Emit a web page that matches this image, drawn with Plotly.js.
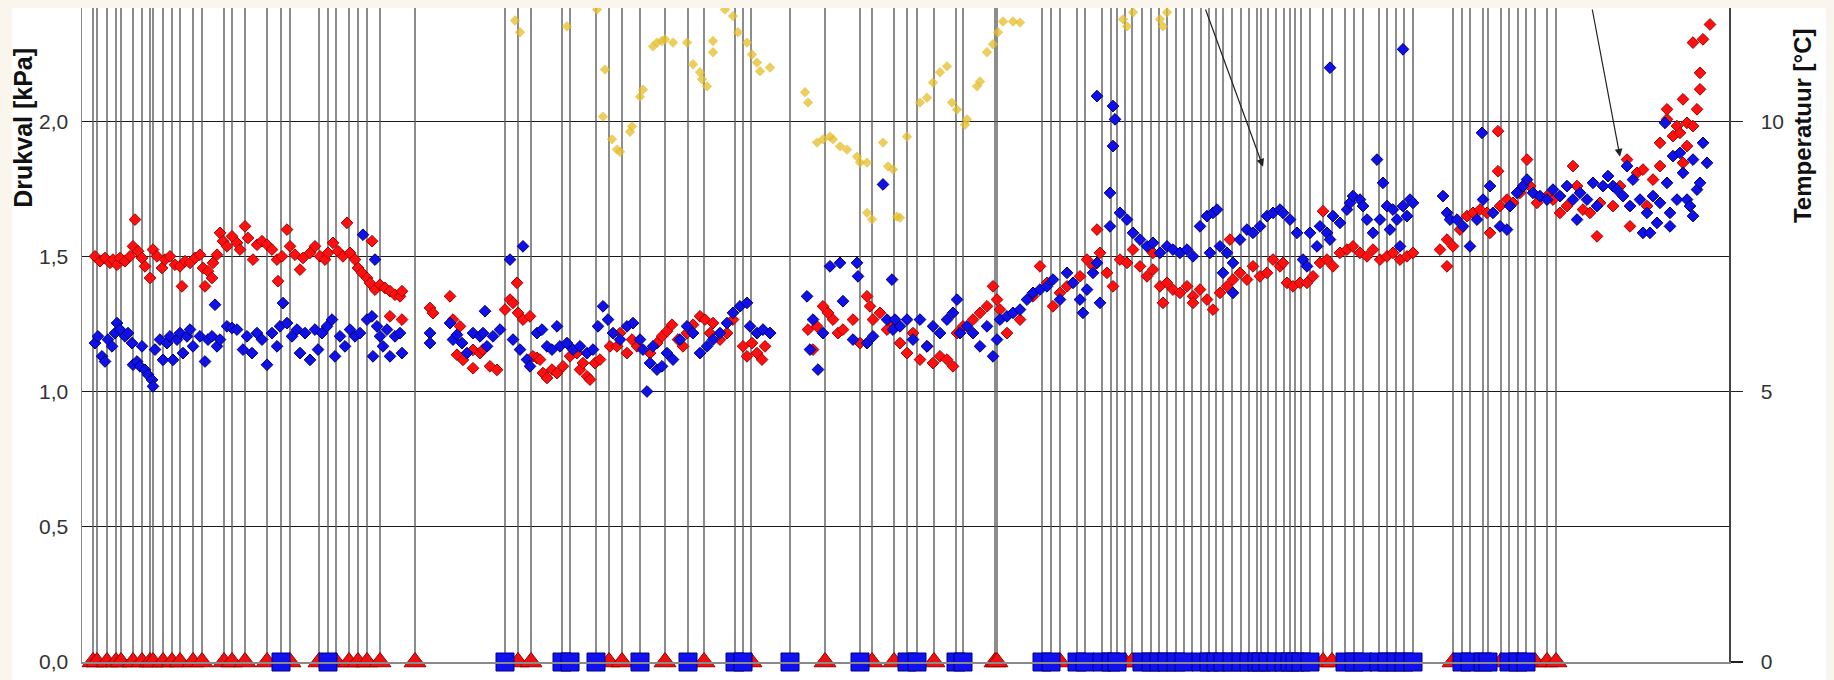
<!DOCTYPE html>
<html><head><meta charset="utf-8">
<script src="https://cdn.plot.ly/plotly-3.0.1.min.js"></script>
<style>
html,body{margin:0;padding:0;background:#faf6ee;width:1834px;height:680px;overflow:hidden}
#chart{position:absolute;left:0px;top:8px;width:1826px;height:672px;background:#fff}
</style>
</head><body><div id="chart"></div>
<script>
// x: days (arbitrary time axis), y: pressure drop [kPa], temperature [°C]
const redX = [1.3,1.8,2.3,2.8,3.1,3.5,3.8,4.3,4.8,5.1,5.3,5.6,6.0,6.3,6.8,7.1,7.5,8.0,8.3,8.8,
9.3,9.8,10.0,10.3,10.8,11.3,11.8,12.1,12.3,12.6,13.0,13.1,13.5,13.8,14.1,14.5,15.0,15.5,15.8,16.3,
16.6,17.1,17.5,18.0,18.5,19.0,19.5,19.6,20.0,20.5,20.8,21.3,21.8,22.1,22.8,23.3,23.8,24.3,24.6,25.1,
25.6,26.1,26.5,26.8,27.3,27.6,28.0,28.5,28.8,29.0,29.3,29.8,30.3,30.8,31.3,31.8,32.0,30.8,32.0,34.8,
35.1,36.8,37.1,37.8,37.5,38.1,39.1,39.8,40.8,41.5,39.1,
40.1,42.3,42.8,43.1,43.5,43.6,44.1,44.8,45.1,45.5,45.8,46.1,46.5,47.0,47.5,48.1,48.8,49.5,49.8,50.1,
50.5,50.8,51.3,51.8,52.8,53.5,53.8,54.5,55.0,55.5,56.8,57.5,58.0,58.5,59.0,59.6,60.1,60.5,61.1,61.8,
62.3,62.8,63.1,63.8,64.5,65.1,66.1,66.5,67.0,67.5,68.0,68.3,68.8,72.6,73.1,73.5,74.1,74.6,75.1,75.6,
76.1,77.1,77.8,78.5,78.8,79.1,79.8,
80.5,81.1,81.8,82.5,83.1,83.8,84.5,85.1,85.8,86.5,87.1,87.5,88.1,89.1,89.8,90.5,91.1,91.5,91.8,92.5,
93.8,95.1,95.8,96.5,97.1,97.8,98.5,99.8,100.5,101.1,101.5,101.8,102.5,103.1,103.8,104.5,105.1,105.8,106.5,107.1,
107.1,107.8,108.1,108.5,109.1,109.8,110.5,111.1,111.1,111.8,112.5,113.1,113.8,114.5,114.8,115.1,115.8,116.5,117.1,117.8,
118.5,119.1,119.8,
120.1,120.5,121.1,121.8,122.5,123.1,123.8,124.1,124.5,125.1,125.8,126.5,127.1,127.8,128.5,129.1,129.8,130.5,131.1,131.8,
132.5,133.1,135.8,136.5,136.5,137.1,137.8,138.5,139.1,139.8,140.5,140.8,141.6,141.6,141.8,142.5,143.1,143.8,144.5,144.8,
145.5,146.5,147.1,147.8,148.5,149.1,149.5,150.1,150.8,151.5,151.8,153.1,153.8,154.5,154.8,155.5,156.1,156.5,157.1,157.8,
157.8,158.5,158.5,159.1,159.5,159.8,160.1,160.1,160.5,160.5,161.1,161.5,161.8,161.8,161.1,162.1,162.8];
const redY = [1.501,1.483,1.495,1.477,1.489,1.470,1.495,1.483,1.501,1.538,1.637,1.520,1.495,1.464,1.421,1.526,1.501,1.458,1.489,1.501,
1.470,1.464,1.390,1.483,1.477,1.495,1.507,1.458,1.390,1.446,1.421,1.477,1.507,1.588,1.557,1.538,1.575,1.551,1.526,1.612,
1.569,1.489,1.544,1.557,1.544,1.526,1.489,1.409,1.501,1.600,1.538,1.507,1.452,1.495,1.514,1.538,1.501,1.489,1.514,1.551,
1.520,1.501,1.625,1.514,1.489,1.458,1.440,1.421,1.402,1.557,1.378,1.396,1.384,1.372,1.359,1.353,1.372,1.279,1.267,1.310,
1.291,1.353,1.267,1.242,1.137,1.118,1.155,1.143,1.094,1.081,1.087,
1.156,1.304,1.341,1.329,1.403,1.292,1.267,1.279,1.131,1.125,1.119,1.069,1.051,1.082,1.069,1.094,1.131,1.143,1.082,1.106,
1.057,1.045,1.106,1.119,1.168,1.168,1.217,1.143,1.193,1.168,1.143,1.180,1.205,1.224,1.248,1.193,1.168,1.217,1.248,1.279,
1.267,1.217,1.254,1.193,1.217,1.267,1.168,1.131,1.180,1.143,1.119,1.168,1.217,1.230,1.156,1.242,1.316,1.292,1.267,1.217,
1.230,1.267,1.180,1.353,1.316,1.267,1.292,
1.230,1.254,1.180,1.143,1.217,1.119,1.168,1.106,1.131,1.119,1.094,1.217,1.242,1.267,1.292,1.316,1.390,1.341,1.304,1.217,
1.267,1.353,1.464,1.403,1.316,1.366,1.390,1.427,1.489,1.464,1.600,1.514,1.440,1.390,1.489,1.477,1.526,1.464,1.427,1.452,
1.514,1.390,1.329,1.403,1.378,1.366,1.390,1.353,1.329,1.378,1.341,1.304,1.366,1.390,1.563,1.415,1.440,1.415,1.464,1.427,
1.440,1.489,1.464,
1.477,1.403,1.390,1.403,1.403,1.427,1.477,1.668,1.489,1.464,1.514,1.526,1.538,1.514,1.501,1.526,1.489,1.501,1.514,1.489,
1.501,1.514,1.526,1.563,1.464,1.538,1.600,1.650,1.662,1.674,1.662,1.588,1.816,1.964,1.687,1.711,1.699,1.736,1.859,1.761,
1.699,1.724,1.711,1.662,1.687,1.835,1.761,1.674,1.662,1.575,1.699,1.687,1.761,1.859,1.612,1.810,1.822,1.687,1.785,1.835,
1.921,2.008,2.045,1.946,1.983,1.958,2.082,1.847,1.995,1.909,1.983,2.045,2.119,2.180,2.292,2.304,2.359];

const blueX = [1.3,1.6,2.0,2.3,2.6,3.0,3.3,3.5,3.8,4.3,4.6,5.0,5.1,5.5,5.8,6.0,6.3,6.6,7.0,7.1,
7.3,7.8,8.1,8.5,8.8,9.1,9.5,9.8,10.1,10.5,10.8,11.1,11.8,12.3,12.6,13.0,13.3,13.5,13.8,14.5,
15.0,15.5,16.1,16.5,17.0,17.5,18.0,18.5,19.0,19.5,19.8,20.1,20.5,21.0,21.5,21.8,22.3,22.8,23.3,23.6,
24.0,24.5,25.0,25.3,25.8,26.3,26.8,27.3,27.8,28.1,28.5,29.0,29.1,29.3,29.5,29.8,30.1,30.5,30.8,31.3,
31.8,32.0,34.8,34.8,36.8,37.1,37.5,38.0,38.5,39.1,39.8,40.3,40.5,41.1,
40.1,41.8,42.8,44.1,43.1,43.8,44.5,44.8,45.5,46.0,46.5,47.0,47.5,47.8,48.5,49.1,49.8,50.5,51.1,51.6,
52.1,52.6,53.1,53.8,54.5,55.1,55.8,56.1,56.5,56.8,57.1,57.5,58.0,58.5,59.1,59.8,60.5,61.1,61.8,62.5,
63.1,63.8,64.5,65.1,65.8,66.5,66.8,67.5,68.1,68.8,72.5,72.8,73.1,73.6,74.1,74.8,75.8,76.1,77.1,77.5,
77.6,78.5,79.1,80.1,80.5,81.0,81.3,
81.1,81.8,82.5,83.1,83.8,84.5,85.1,85.8,86.5,87.1,87.5,87.8,88.5,89.1,89.8,90.5,91.1,91.5,91.8,92.5,
93.1,93.8,94.5,95.1,95.8,96.5,97.1,97.8,98.5,99.1,99.8,100.1,100.5,101.1,101.5,101.8,101.5,102.8,102.8,103.1,
103.3,103.1,103.8,104.5,105.1,105.8,106.5,107.1,107.8,108.5,109.1,109.8,110.5,111.1,111.8,112.5,113.1,113.5,112.8,113.8,
114.1,114.5,115.1,115.1,115.8,116.5,117.1,117.8,118.5,119.1,119.8,
120.1,120.8,121.5,122.1,122.5,122.8,123.5,123.8,124.5,124.8,124.8,125.1,125.8,126.5,126.8,127.1,127.8,128.1,128.5,129.1,
129.5,129.8,130.1,130.5,130.8,131.1,131.5,131.8,132.1,132.1,132.5,132.8,133.1,136.1,136.5,136.8,137.5,138.1,138.8,139.5,
140.0,140.1,140.8,141.1,141.8,142.5,142.8,143.5,144.1,144.5,145.1,145.8,146.5,147.1,147.8,148.5,149.1,149.5,149.8,150.5,
151.1,151.5,152.1,152.6,153.1,153.5,154.1,154.5,154.8,155.1,155.8,156.1,156.5,156.8,157.1,157.5,157.8,158.3,158.5,158.8,
158.8,159.1,159.5,159.8,160.1,160.5,160.8,161.1,161.1,161.5,161.8,162.1,162.5];
const blueY = [1.180,1.205,1.131,1.112,1.193,1.168,1.217,1.254,1.230,1.205,1.217,1.180,1.100,1.112,1.094,1.168,1.081,1.063,1.044,1.020,
1.156,1.193,1.118,1.180,1.205,1.118,1.193,1.217,1.143,1.205,1.230,1.168,1.205,1.112,1.193,1.205,1.322,1.168,1.193,1.242,
1.236,1.230,1.156,1.205,1.143,1.217,1.193,1.100,1.217,1.168,1.242,1.328,1.254,1.205,1.230,1.143,1.217,1.118,1.230,1.156,
1.217,1.242,1.267,1.131,1.205,1.168,1.230,1.205,1.217,1.581,1.267,1.279,1.131,1.489,1.242,1.205,1.168,1.230,1.131,1.205,
1.217,1.143,1.217,1.180,1.254,1.193,1.211,1.180,1.143,1.217,1.205,1.298,1.168,1.205,
1.217,1.230,1.489,1.538,1.193,1.156,1.119,1.094,1.217,1.230,1.168,1.156,1.242,1.168,1.180,1.156,1.168,1.143,1.156,1.242,
1.316,1.267,1.217,1.193,1.242,1.254,1.193,1.156,1.001,1.106,1.168,1.082,1.094,1.143,1.119,1.193,1.242,1.217,1.143,1.168,
1.193,1.217,1.254,1.292,1.316,1.329,1.242,1.217,1.230,1.217,1.353,1.156,1.267,1.082,1.217,1.464,1.477,1.335,1.193,1.477,
1.427,1.180,1.205,1.767,1.267,1.415,1.267,
1.230,1.242,1.267,1.193,1.267,1.168,1.242,1.217,1.267,1.292,1.341,1.217,1.242,1.217,1.168,1.242,1.131,1.193,1.267,1.279,
1.292,1.304,1.341,1.366,1.378,1.390,1.415,1.341,1.440,1.403,1.341,1.292,1.378,1.440,1.477,1.329,2.094,1.736,1.612,2.057,
2.008,1.909,1.662,1.637,1.588,1.563,1.538,1.551,1.514,1.538,1.526,1.514,1.526,1.501,1.612,1.650,1.662,1.674,1.514,1.538,
1.440,1.514,1.477,1.366,1.563,1.600,1.588,1.612,1.650,1.662,1.674,
1.662,1.637,1.588,1.489,1.464,1.588,1.538,1.612,1.588,1.563,2.199,1.650,1.625,1.674,1.699,1.724,1.711,1.687,1.637,1.588,
1.859,1.637,1.773,1.687,1.600,1.674,1.637,1.538,1.687,2.267,1.650,1.711,1.699,1.724,1.662,1.637,1.637,1.612,1.538,1.637,
1.958,1.711,1.761,1.662,1.612,1.600,1.687,1.736,1.761,1.785,1.736,1.724,1.711,1.748,1.724,1.761,1.711,1.637,1.736,1.711,
1.773,1.687,1.761,1.798,1.761,1.748,1.724,1.835,1.687,1.785,1.711,1.588,1.662,1.588,1.724,1.625,1.699,1.995,1.773,1.662,
1.612,1.872,1.711,1.884,1.810,1.711,1.687,1.650,1.859,1.748,1.773,1.921,1.847];

// temperature [°C] (right axis), mostly above the visible range
const tempX = [43.3,43.8,48.5,51.5,52.3,52.1,53.0,53.5,53.8,54.8,55.0,55.8,56.1,57.1,57.5,58.0,58.3,59.1,60.5,61.1,
61.8,62.0,62.5,63.1,63.1,64.3,65.1,65.6,66.5,67.0,67.5,67.8,68.8,72.3,72.6,73.5,74.1,74.8,75.1,75.8,
76.5,77.5,77.8,78.5,80.1,80.6,81.1,78.5,79.0,81.5,81.8,82.5,83.8,84.5,85.1,85.8,86.5,87.0,87.5,88.3,
88.5,89.5,89.8,90.5,91.1,91.6,92.1,93.1,93.8,104.1,104.5,105.1,107.8,108.1,108.5];
const tempY = [11.87,11.65,11.76,12.07,10.96,10.09,9.67,9.48,9.44,9.81,9.91,10.46,10.59,11.39,11.46,11.49,11.52,11.46,11.46,11.06,
10.91,10.78,10.65,11.49,11.28,12.07,11.95,11.65,11.46,11.24,11.09,10.93,11.00,10.54,10.35,9.61,9.67,9.72,9.67,9.54,
9.48,9.35,9.24,9.24,9.61,9.17,9.11,8.31,8.19,8.24,8.22,9.72,10.35,10.44,10.72,10.91,11.02,10.35,10.22,9.94,
10.04,10.65,10.74,11.28,11.43,11.65,11.85,11.85,11.83,11.89,11.76,12.02,11.89,11.76,12.02];

// events drawn at y = 0 with a vertical line
const triX = [1.1,1.5,2.5,3.4,3.9,5.1,6.0,6.8,7.1,8.1,9.0,9.8,11.1,12.0,14.2,15.0,16.3,18.5,20.8,23.7,25.4,26.7,27.6,28.5,29.8,33.3,
43.6,44.9,52.7,54.0,58.3,62.2,66.9,74.3,79.0,81.2,85.2,91.3,91.5,
97.8,104.3,105.0,111.0,124.1,125.0,137.1,141.9,145.3,146.5,147.4];
const sqX = [19.9,24.6,42.3,48.0,48.8,51.4,55.8,60.6,65.3,66.1,70.8,77.8,82.5,83.5,87.4,88.1,
96.0,96.9,99.5,100.3,102.0,102.9,103.5,106.0,106.9,107.7,108.5,109.4,110.2,111.9,112.7,113.4,114.1,115.0,115.9,116.7,117.5,117.9,
118.6,119.4,120.2,120.8,121.3,121.9,122.8,126.3,127.2,128.1,129.7,130.5,131.4,132.2,133.1,138.0,138.8,140.1,140.6,142.7,143.6,144.4];

const yMax = 2.42;
const xMax = 164.7;
const FONT = 'Liberation Sans, Arial, sans-serif';

const evAll = triX.concat(sqX).sort((a,b)=>a-b);
const lineX = [], lineY = [];
evAll.forEach(v => { lineX.push(v, v, null); lineY.push(0, yMax, null); });

const traces = [
  {x: lineX, y: lineY, mode: 'lines', line: {color: '#5c5c5c', width: 1.4}, hoverinfo: 'skip', cliponaxis: true},
  {x: tempX, y: tempY, yaxis: 'y2', mode: 'markers', marker: {symbol: 'diamond', size: 8, color: 'rgba(228,190,40,0.75)', line: {width: 0}}},
  {x: redX, y: redY, mode: 'markers', marker: {symbol: 'diamond', size: 9, color: '#ff1010', line: {color: '#a00000', width: 1}}},
  {x: blueX, y: blueY, mode: 'markers', marker: {symbol: 'diamond', size: 9, color: '#1010e8', line: {color: '#000070', width: 1}}},
  {x: triX, y: triX.map(() => 0), mode: 'markers', cliponaxis: false,
   marker: {symbol: 'triangle-up', size: 19, color: '#ee1111', line: {color: '#990000', width: 1}}},
  {x: sqX, y: sqX.map(() => 0), mode: 'markers', cliponaxis: false,
   marker: {symbol: 'square', size: 18, color: '#1111ee', line: {color: '#000088', width: 1}}}
];

const layout = {
  width: 1826, height: 672,
  margin: {l: 82, r: 97, t: 0, b: 18},
  paper_bgcolor: '#ffffff', plot_bgcolor: '#ffffff',
  showlegend: false,
  separators: ', ',
  font: {family: FONT, color: '#333'},
  xaxis: {range: [0, xMax], showticklabels: false, showgrid: false, zeroline: false,
          showline: true, linecolor: '#8a8a8a', linewidth: 1.5, ticks: ''},
  yaxis: {range: [0, yMax], tickvals: [0, 0.5, 1, 1.5, 2], tickformat: '.1f',
          showgrid: true, gridcolor: '#1a1a1a', gridwidth: 1.2, zeroline: false,
          showline: true, linecolor: '#8a8a8a', linewidth: 1.5, ticks: '', ticklabelstandoff: 8,
          tickfont: {family: FONT, size: 21, color: '#333'}},
  yaxis2: {range: [0, yMax * 5], overlaying: 'y', side: 'right', tickvals: [0, 5, 10],
           showgrid: false, zeroline: false, showline: true, linecolor: '#444', linewidth: 1.5,
           ticks: 'outside', ticklen: 12, tickcolor: '#222', tickwidth: 1.2, ticklabelstandoff: 14,
           tickfont: {family: FONT, size: 21, color: '#333'}},
  shapes: [
    {type: 'rect', xref: 'paper', yref: 'paper', x0: -0.0498, x1: -0.0425, y0: -0.03, y1: 1.0,
     fillcolor: '#faf6ee', line: {width: 0}, layer: 'below'}
  ],
  annotations: [
    {xref: 'paper', yref: 'paper', x: -0.0358, y: 0.817, text: '<b>Drukval [kPa]</b>', textangle: -90,
     showarrow: false, xanchor: 'center', yanchor: 'middle', font: {family: FONT, size: 25, color: '#111'}},
    {xref: 'paper', yref: 'paper', x: 1.0443, y: 0.821, text: '<b>Temperatuur [°C]</b>', textangle: -90,
     showarrow: false, xanchor: 'center', yanchor: 'middle', font: {family: FONT, size: 24, color: '#111'}},
    {xref: 'x', yref: 'y', axref: 'x', ayref: 'y', x: 118.1, y: 1.833, ax: 112.3, ay: yMax, text: '',
     showarrow: true, arrowhead: 2, arrowsize: 1.3, arrowwidth: 1.2, arrowcolor: '#222'},
    {xref: 'x', yref: 'y', axref: 'x', ayref: 'y', x: 153.8, y: 1.87, ax: 151.0, ay: yMax, text: '',
     showarrow: true, arrowhead: 2, arrowsize: 1.3, arrowwidth: 1.2, arrowcolor: '#222'}
  ]
};

Plotly.newPlot('chart', traces, layout, {displayModeBar: false, staticPlot: true});
</script></body></html>
